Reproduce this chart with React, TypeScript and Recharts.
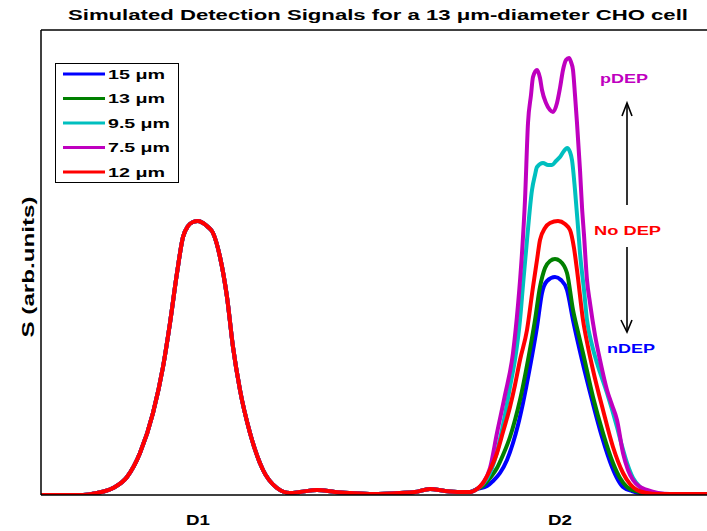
import React from "react";
import { LineChart, Line, XAxis, YAxis, ReferenceLine } from "recharts";

// shared detector-1 signal (all five sizes coincide here): [t, S]
const d1Shared: [number, number][] = [
  [0, 0], [42, 0], [56, 0.02], [72, 0.07], [86, 0.18], [99, 0.42], [112, 0.82],
  [122, 1.28], [129, 1.72], [136, 2.22], [142, 2.58], [147, 2.69], [152, 2.73],
  [157, 2.74], [162, 2.72], [167, 2.68], [172, 2.62], [179, 2.38], [186, 1.98],
  [192, 1.48], [199, 1.05], [209, 0.62], [222, 0.25], [236, 0.07], [249, 0.02],
  [259, 0.03], [276, 0.05], [294, 0.03], [309, 0.02], [332, 0.01], [359, 0.02],
  [374, 0.03], [389, 0.06], [404, 0.04], [419, 0.03], [429, 0.03],
];

// detector-2 signals per particle size
const d2Blue15: [number, number][] = [
  [436, 0.06], [446, 0.09], [452, 0.14], [459, 0.22], [466, 0.35], [472, 0.52],
  [477, 0.7], [482, 0.92], [489, 1.28], [496, 1.68], [501, 2.02], [506, 2.14],
  [514, 2.18], [520, 2.15], [526, 2.05], [532, 1.75], [541, 1.35], [551, 0.95],
  [561, 0.58], [571, 0.28], [577, 0.15], [582, 0.08], [591, 0.04], [599, 0.02],
  [619, 0.01], [666, 0.01],
];
const d2Green13: [number, number][] = [
  [436, 0.06], [442, 0.09], [449, 0.17], [456, 0.27], [462, 0.4], [469, 0.58],
  [474, 0.75], [479, 0.95], [487, 1.35], [494, 1.75], [499, 2.08], [504, 2.27],
  [509, 2.34], [514, 2.36], [519, 2.34], [526, 2.22], [532, 1.85], [537, 1.63],
  [542, 1.42], [552, 0.98], [562, 0.62], [572, 0.32], [579, 0.17], [586, 0.08],
  [594, 0.04], [602, 0.02], [619, 0.01], [666, 0.01],
];
const d2Cyan95: [number, number][] = [
  [436, 0.06], [442, 0.11], [449, 0.22], [456, 0.43], [462, 0.7], [469, 1.08],
  [475, 1.42], [479, 1.75], [482, 2.1], [486, 2.55], [491, 3.05], [494, 3.2],
  [496, 3.28], [502, 3.32], [507, 3.3], [511, 3.3], [515, 3.34], [519, 3.38],
  [523, 3.44], [526, 3.47], [529, 3.43], [531, 3.35], [534, 3.05], [537, 2.68],
  [539, 2.42], [543, 2.05], [546, 1.75], [551, 1.5], [556, 1.32], [566, 1.02],
  [576, 0.68], [581, 0.49], [586, 0.32], [592, 0.17], [599, 0.08], [609, 0.03],
  [624, 0.01], [666, 0.01],
];
const d2Magenta75: [number, number][] = [
  [436, 0.06], [442, 0.12], [449, 0.27], [456, 0.62], [464, 1.0], [472, 1.42],
  [477, 1.9], [481, 2.42], [484, 2.95], [487, 3.72], [490, 4.0], [492, 4.18],
  [496, 4.25], [499, 4.17], [501, 4.05], [505, 3.92], [509, 3.85], [512, 3.83],
  [516, 3.92], [519, 4.07], [522, 4.25], [525, 4.35], [528, 4.37], [530, 4.33],
  [532, 4.25], [534, 4.0], [536, 3.72], [539, 3.25], [541, 2.88], [543, 2.6],
  [546, 2.15], [549, 1.92], [554, 1.6], [559, 1.35], [566, 1.05], [571, 0.9],
  [576, 0.75], [582, 0.42], [587, 0.25], [592, 0.15], [599, 0.08], [606, 0.05],
  [617, 0.02], [629, 0.01], [666, 0.01],
];
const d2Red12: [number, number][] = [
  [436, 0.06], [442, 0.12], [449, 0.25], [456, 0.42], [462, 0.63], [469, 0.88],
  [474, 1.1], [479, 1.35], [486, 1.65], [492, 2.08], [496, 2.35], [499, 2.55],
  [504, 2.67], [509, 2.72], [517, 2.74], [524, 2.71], [529, 2.65], [533, 2.47],
  [536, 2.25], [542, 1.75], [547, 1.48], [552, 1.25], [562, 0.85], [572, 0.48],
  [582, 0.22], [589, 0.11], [596, 0.05], [606, 0.02], [616, 0.01], [666, 0.01],
];

const sizeLabels = ["15 \u03bcm", "13 \u03bcm", "9.5 \u03bcm", "7.5 \u03bcm", "12 \u03bcm"];
const sizeColors = ["#0000ff", "#008000", "#00bfbf", "#bf00bf", "#ff0000"];
const d2Sets = [d2Blue15, d2Green13, d2Cyan95, d2Magenta75, d2Red12];

const tickPositions = [157, 519];
const tickLabels = ["D1", "D2"];

const series = d2Sets.map((d2, i) => ({
  name: sizeLabels[i],
  color: sizeColors[i],
  data: [...d1Shared, ...d2].map(([t, s]) => ({ t, s })),
}));

const bold = "'Liberation Sans', Arial, sans-serif";

function LegendBox() {
  const widths = [57, 57, 62, 62, 57];
  return (
    <svg width={124} height={120} style={{ display: "block" }}>
      <rect x={0.5} y={0.5} width={123} height={119} fill="#fff" stroke="#000" strokeWidth={1} />
      {sizeLabels.map((lab, i) => {
        const cy = 11 + i * 24.5;
        return (
          <g key={lab}>
            <line x1={8} x2={50} y1={cy} y2={cy} stroke={sizeColors[i]} strokeWidth={3} />
            <text
              x={53}
              y={cy + 4.5}
              fontFamily={bold}
              fontWeight="bold"
              fontSize={12.5}
              textLength={widths[i]}
              lengthAdjust="spacingAndGlyphs"
            >
              {lab}
            </text>
          </g>
        );
      })}
    </svg>
  );
}

function XTick(props: any) {
  const idx = tickPositions.indexOf(props.payload.value);
  return (
    <text
      x={props.x}
      y={524.5}
      textAnchor="middle"
      fontFamily={bold}
      fontWeight="bold"
      fontSize={14}
      fill="#000"
      textLength={24}
      lengthAdjust="spacingAndGlyphs"
    >
      {tickLabels[idx]}
    </text>
  );
}

export default function App() {
  return (
    <div style={{ position: "absolute", left: 0, top: 0, width: 707, height: 531, background: "#fff" }}>
      <LineChart width={707} height={531} margin={{ top: 30, right: 0, bottom: 0, left: 0 }}>
        <XAxis
          type="number"
          dataKey="t"
          domain={[0, 666]}
          ticks={tickPositions}
          tick={<XTick />}
          tickLine={false}
          height={36}
          axisLine={{ stroke: "#000", strokeWidth: 1.5 }}
          allowDataOverflow
        />
        <YAxis
          type="number"
          domain={[0, 4.65]}
          width={41}
          tick={false}
          tickLine={false}
          axisLine={{ stroke: "#000", strokeWidth: 1.5 }}
          allowDataOverflow
        />
        <ReferenceLine y={4.65} stroke="#000" strokeWidth={1.5} />
        {series.map((s) => (
          <Line
            key={s.name}
            data={s.data}
            dataKey="s"
            name={s.name}
            type="monotone"
            stroke={s.color}
            strokeWidth={4}
            dot={false}
            isAnimationActive={false}
          />
        ))}
      </LineChart>
      <div style={{ position: "absolute", left: 55, top: 63 }}>
        <LegendBox />
      </div>
      <svg
        width={707}
        height={531}
        style={{ position: "absolute", left: 0, top: 0, pointerEvents: "none" }}
      >
        <text
          x={378}
          y={20}
          textAnchor="middle"
          fontFamily={bold}
          fontWeight="bold"
          fontSize={14.5}
          textLength={620}
          lengthAdjust="spacingAndGlyphs"
        >
          Simulated Detection Signals for a 13 {"\u03bc"}m-diameter CHO cell
        </text>
        <text
          transform="translate(34,267) rotate(-90)"
          textAnchor="middle"
          fontFamily={bold}
          fontWeight="bold"
          fontSize={16.5}
          textLength={141}
          lengthAdjust="spacingAndGlyphs"
        >
          S (arb.units)
        </text>
        <text x={600} y={83} fontFamily={bold} fontWeight="bold" fontSize={13} fill="#bf00bf" textLength={48} lengthAdjust="spacingAndGlyphs">
          pDEP
        </text>
        <text x={594} y={235} fontFamily={bold} fontWeight="bold" fontSize={13} fill="#ff0000" textLength={67} lengthAdjust="spacingAndGlyphs">
          No DEP
        </text>
        <text x={607} y={353} fontFamily={bold} fontWeight="bold" fontSize={13} fill="#0000ff" textLength={48} lengthAdjust="spacingAndGlyphs">
          nDEP
        </text>
        <g stroke="#000" strokeWidth={1.6} fill="none">
          <line x1={627} y1={205} x2={627} y2={104} />
          <polyline points="622,116 627,103 632,116" />
          <line x1={627} y1={247} x2={627} y2={331} />
          <polyline points="621,320 627,332 632,320" />
        </g>
      </svg>
    </div>
  );
}
